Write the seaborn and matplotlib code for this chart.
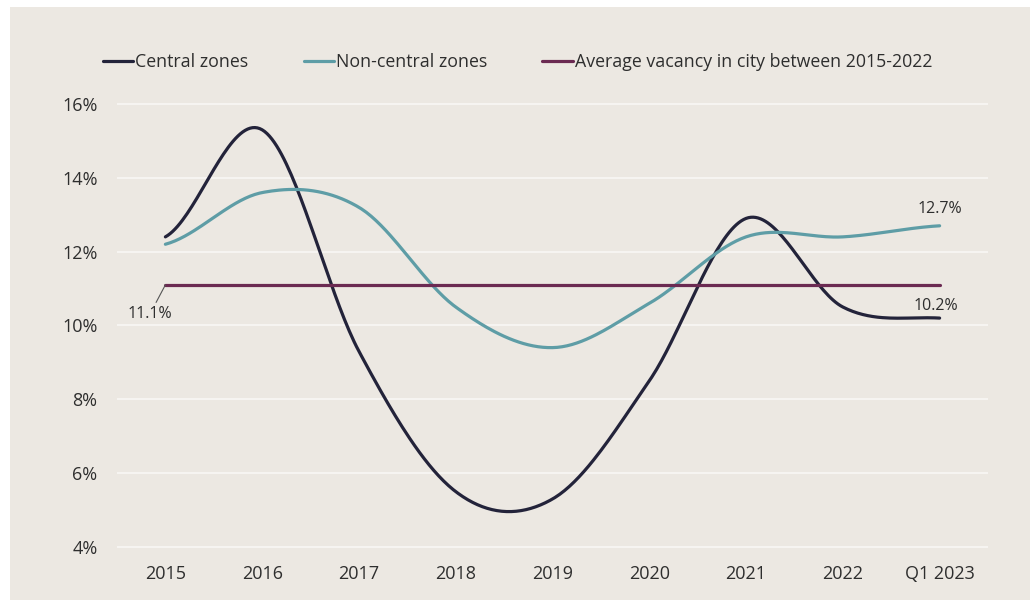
import numpy as np
import pandas as pd
import matplotlib
matplotlib.use("Agg")
import matplotlib.pyplot as plt
import seaborn as sns
from matplotlib.patches import Rectangle

years = ["2015", "2016", "2017", "2018", "2019", "2020", "2021", "2022", "Q1 2023"]
central = [12.4, 15.3, 9.3, 5.5, 5.3, 8.5, 12.9, 10.5, 10.2]
non_central = [12.2, 13.6, 13.2, 10.5, 9.4, 10.6, 12.4, 12.4, 12.7]
avg_vacancy = 11.1

c_central = "#23233a"
c_noncentral = "#5e9da6"
c_avg = "#6b2a52"
bg = "#ece8e2"
txt = "#2e2e2e"


def smooth(vals, n=40):
    # catmull-rom style curve through the points (like excel's smoothed line)
    p = np.asarray(vals, dtype=float)
    m = np.zeros_like(p)
    m[1:-1] = (p[2:] - p[:-2]) / 2
    m[0] = (p[1] - p[0]) / 2
    m[-1] = (p[-1] - p[-2]) / 2
    xs, ys = [], []
    for i in range(len(p) - 1):
        t = np.linspace(0, 1, n, endpoint=(i == len(p) - 2))
        h00 = 2 * t**3 - 3 * t**2 + 1
        h10 = t**3 - 2 * t**2 + t
        h01 = -2 * t**3 + 3 * t**2
        h11 = t**3 - t**2
        xs.append(i + t)
        ys.append(h00 * p[i] + h10 * m[i] + h01 * p[i + 1] + h11 * m[i + 1])
    return np.concatenate(xs), np.concatenate(ys)


xc, yc = smooth(central)
xn, yn = smooth(non_central)
df = pd.concat([
    pd.DataFrame({"x": xc, "y": yc, "series": "Central zones"}),
    pd.DataFrame({"x": xn, "y": yn, "series": "Non-central zones"}),
    pd.DataFrame({"x": [0, len(years) - 1], "y": [avg_vacancy] * 2,
                  "series": "Average vacancy in city between 2015-2022"}),
])

sns.set_style("white")
plt.rcParams["font.family"] = ["Open Sans", "DejaVu Sans"]

fig = plt.figure(figsize=(10.36, 6.07), dpi=100, facecolor="white")
fig.patches.append(Rectangle((10 / 1036, 7 / 607), 1020 / 1036, 593 / 607,
                             transform=fig.transFigure, facecolor=bg,
                             edgecolor="none", zorder=-10))
ax = fig.add_axes([117 / 1036, 0.0928, 871 / 1036, 0.742])
ax.set_facecolor(bg)
ax.patch.set_alpha(0)

pal = {"Central zones": c_central, "Non-central zones": c_noncentral,
       "Average vacancy in city between 2015-2022": c_avg}
sns.lineplot(data=df, x="x", y="y", hue="series", palette=pal, sort=False,
             estimator=None, linewidth=2.3, ax=ax, legend=False)

ax.set_xlim(-0.5, len(years) - 0.5)
ax.set_ylim(3.9, 16.1)
ax.set_xticks(range(len(years)), years)
ax.set_yticks(range(4, 17, 2), [f"{v}%" for v in range(4, 17, 2)])
ax.tick_params(axis="both", length=0, labelsize=13, labelcolor=txt)
ax.tick_params(axis="y", pad=14)
ax.tick_params(axis="x", pad=10)
ax.set_xlabel("")
ax.set_ylabel("")
ax.grid(axis="y", color="#f6f4f1", linewidth=1.5)
ax.grid(axis="x", visible=False)
ax.set_axisbelow(True)
sns.despine(ax=ax, left=True, bottom=True)

ax.annotate(f"{non_central[-1]}%", (8, non_central[-1]), xytext=(0, 6),
            textcoords="offset points", ha="center", va="bottom", fontsize=11.5, color=txt)
ax.annotate(f"{central[-1]}%", (8, central[-1]), xytext=(-3, 3),
            textcoords="offset points", ha="center", va="bottom", fontsize=11.5, color=txt)
ax.annotate(f"{avg_vacancy}%", (0, avg_vacancy), xytext=(-11, -15),
            textcoords="offset points", ha="center", va="top", fontsize=11.5, color=txt,
            arrowprops=dict(arrowstyle="-", color="#555555", lw=0.8, shrinkA=0, shrinkB=0))

handles = [plt.Line2D([], [], color=pal[k], lw=2.3) for k in pal]
fig.legend(handles, list(pal.keys()), loc="center left",
           bbox_to_anchor=(87 / 1036, 1 - 62 / 607), ncol=3, frameon=False,
           fontsize=12.8, handlelength=1.7, handletextpad=0.12, columnspacing=3.1,
           labelcolor=txt)

fig.savefig("out.png", dpi=100, facecolor="white")
